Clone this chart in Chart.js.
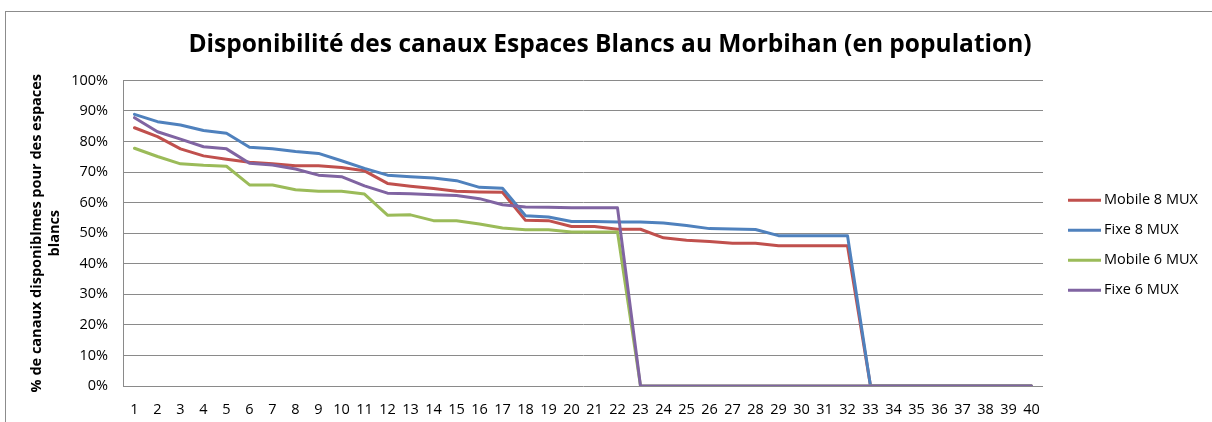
<!DOCTYPE html>
<html>
<head>
<meta charset="utf-8">
<script src="https://cdn.jsdelivr.net/npm/chart.js@4.4.1/dist/chart.umd.min.js"></script>
<style>
  body { margin: 0; background: #fff; }
  #wrap { position: relative; width: 1212px; height: 422px; overflow: hidden; }
  #frame { position: absolute; left: 5px; top: 11px; width: 1300px; height: 500px;
           border: 1px solid #8c8c8c; pointer-events: none; }
</style>
</head>
<body>
<div id="wrap">
  <canvas id="chartCanvas" width="1212" height="422"></canvas>
  <div id="frame"></div>
</div>
<script>
var ctx = document.getElementById("chartCanvas").getContext("2d");

// x categories 1..40
var xLabel = [];
for (var i = 1; i <= 40; i++) {
  xLabel.push(String(i));
}

var mobile8 = [84.5, 81.6, 77.6, 75.3, 74.2, 73.2, 72.7, 72.1, 72.1, 71.5,
  70.4, 66.3, 65.4, 64.6, 63.7, 63.5, 63.4, 54.2, 54.1, 52.2,
  52.2, 51.3, 51.3, 48.5, 47.7, 47.3, 46.7, 46.7, 45.9, 45.9,
  45.9, 45.9, 0, 0, 0, 0, 0, 0, 0, 0];
var fixe8 = [88.9, 86.5, 85.4, 83.6, 82.7, 78.1, 77.6, 76.7, 76.1, 73.7,
  71.2, 69.0, 68.5, 68.1, 67.2, 65.0, 64.7, 55.7, 55.3, 53.8,
  53.8, 53.7, 53.7, 53.3, 52.5, 51.5, 51.4, 51.2, 49.2, 49.2,
  49.2, 49.2, 0, 0, 0, 0, 0, 0, 0, 0];
var mobile6 = [77.8, 75.1, 72.7, 72.2, 71.9, 65.8, 65.8, 64.2, 63.7, 63.7,
  62.8, 55.9, 56.0, 54.1, 54.1, 53.0, 51.7, 51.1, 51.1, 50.4,
  50.4, 50.4, 0, 0, 0, 0, 0, 0, 0, 0,
  0, 0, 0, 0, 0, 0, 0, 0, 0, 0];
var fixe6 = [87.8, 83.2, 80.8, 78.3, 77.6, 72.9, 72.3, 71.0, 69.0, 68.5,
  65.5, 63.1, 62.9, 62.6, 62.3, 61.3, 59.3, 58.6, 58.5, 58.3,
  58.3, 58.3, 0, 0, 0, 0, 0, 0, 0, 0,
  0, 0, 0, 0, 0, 0, 0, 0, 0, 0];

var seriesNames = ["Mobile 8 MUX", "Fixe 8 MUX", "Mobile 6 MUX", "Fixe 6 MUX"];
var seriesColors = ["#C0504D", "#4F81BD", "#9BBB59", "#8064A2"];
var seriesData = [mobile8, fixe8, mobile6, fixe6];

var FONT = "'Open Sans', sans-serif";
Chart.defaults.font.family = FONT;
Chart.defaults.color = "#000";

var dataset = [];
for (var s = 0; s < seriesData.length; s++) {
  dataset.push({
    label: seriesNames[s],
    data: seriesData[s],
    borderColor: seriesColors[s],
    backgroundColor: seriesColors[s],
    borderWidth: 3,
    pointRadius: 0,
    tension: 0,
    borderJoinStyle: "round",
    borderCapStyle: "round",
    order: 4 - s, // last series drawn on top
  });
}

// legend drawn on the right, Excel style (line + text)
var sideLegend = {
  id: "sideLegend",
  afterDraw: function (chart) {
    var c = chart.ctx;
    var area = chart.chartArea;
    var ds = chart.data.datasets;
    var x0 = area.right + 25;
    var step = 30;
    var y0 = (area.top + area.bottom) / 2 + 12 - step * (ds.length - 1) / 2;
    c.save();
    c.font = "14.5px " + FONT;
    c.textBaseline = "middle";
    c.textAlign = "left";
    for (var k = 0; k < ds.length; k++) {
      var y = y0 + k * step;
      c.strokeStyle = ds[k].borderColor;
      c.lineWidth = 3;
      c.beginPath();
      c.moveTo(x0, y);
      c.lineTo(x0 + 33, y);
      c.stroke();
      c.fillStyle = "#000";
      c.fillText(ds[k].label, x0 + 36, y);
    }
    c.restore();
  },
};

var chart = new Chart(ctx, {
  type: "line",
  data: {
    labels: xLabel,
    datasets: dataset,
  },
  plugins: [sideLegend],
  options: {
    responsive: false,
    animation: false,
    layout: {
      padding: { left: 8, right: 0, top: 0, bottom: 0 },
    },
    scales: {
      x: {
        offset: true,
        grid: { display: false, drawTicks: false },
        border: { display: false },
        ticks: { padding: 15, font: { size: 14.5 }, maxRotation: 0, autoSkip: false },
        afterFit: function (scale) { scale.height = 36; },
      },
      y: {
        min: 0,
        max: 100,
        ticks: {
          stepSize: 10,
          padding: 15,
          font: { size: 14.5 },
          callback: function (v) { return v + "%"; },
        },
        grid: { color: "#8a8a8a", drawTicks: false },
        border: { color: "#8a8a8a" },
        title: {
          display: true,
          text: ["% de canaux disponiblmes pour des espaces", "blancs"],
          font: { size: 14.5, weight: "bold", lineHeight: 1.24 },
          padding: { top: 20, bottom: 0 },
        },
        afterFit: function (scale) { scale.width = 115; },
      },
      // empty axis that keeps room for the legend on the right
      yRoom: {
        position: "right",
        display: true,
        grid: { display: false, drawTicks: false },
        border: { display: false },
        ticks: { display: false },
        afterFit: function (scale) { scale.width = 169; },
      },
    },
    plugins: {
      title: {
        display: true,
        text: "Disponibilité des canaux Espaces Blancs au Morbihan (en population)",
        font: { size: 24.5, weight: "bold" },
        padding: { top: 30, bottom: 21 },
      },
      legend: { display: false },
      tooltip: { enabled: false },
    },
  },
});
</script>
</body>
</html>
